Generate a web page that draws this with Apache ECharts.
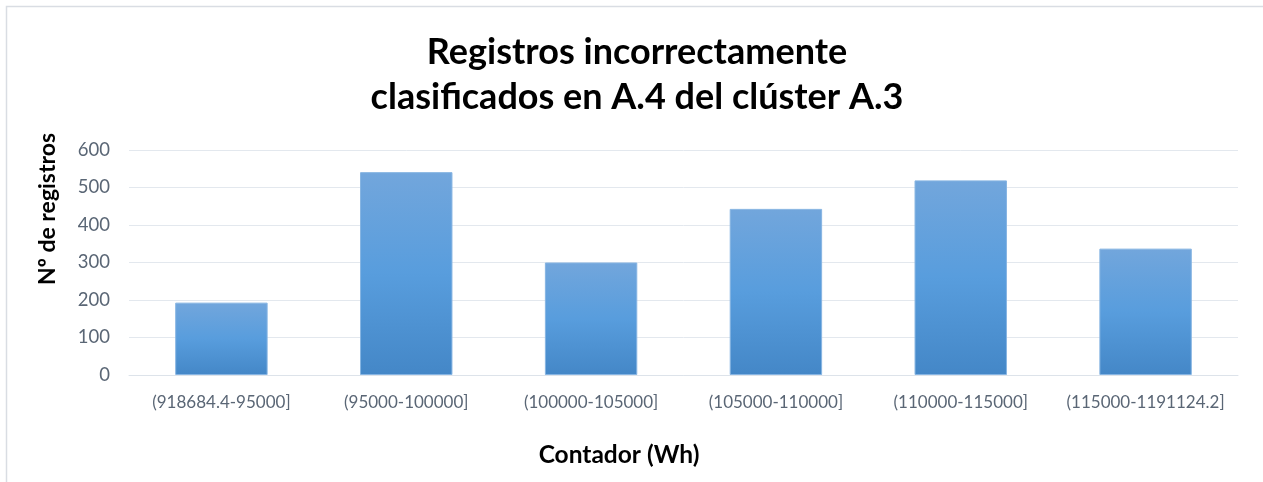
<!DOCTYPE html>
<html>
<head>
<meta charset="utf-8">
<title>Registros incorrectamente clasificados</title>
<script src="https://cdn.jsdelivr.net/npm/echarts@6/dist/echarts.min.js"></script>
<style>
  html, body { margin: 0; padding: 0; background: #ffffff; }
  #chart { width: 1263px; height: 482px; }
</style>
</head>
<body>
<div id="chart"></div>
<script>
// Intervalos del contador (Wh) y número de registros en cada uno
const categories = [
  '(918684.4-95000]',
  '(95000-100000]',
  '(100000-105000]',
  '(105000-110000]',
  '(110000-115000]',
  '(115000-1191124.2]'
];
const registros = [193, 541, 300, 443, 519, 337];
const yTicks = { min: 0, max: 600, interval: 100 };

const titleText = 'Registros incorrectamente\nclasificados en A.4 del clúster A.3';
const xAxisName = 'Contador (Wh)';
const yAxisName = 'Nº de registros';

const chart = echarts.init(document.getElementById('chart'), null, { renderer: 'canvas' });

const barGradient = new echarts.graphic.LinearGradient(0, 0, 0, 1, [
  { offset: 0, color: '#72a6dc' },
  { offset: 0.5, color: '#589ddd' },
  { offset: 1, color: '#4487c7' }
]);

const axisNameStyle = { fontFamily: 'Lato', fontWeight: 'bold', fontSize: 23, fill: '#000000' };

chart.setOption({
  animation: false,
  backgroundColor: '#ffffff',
  graphic: [
    {
      // marco del área del gráfico
      type: 'rect',
      silent: true,
      shape: { x: 6.5, y: 6.5, width: 1300, height: 520 },
      style: { fill: 'none', stroke: '#d9dde3', lineWidth: 1.5 }
    },
    {
      // título principal, dos líneas centradas
      type: 'text',
      silent: true,
      x: 637,
      y: 75,
      style: {
        text: titleText,
        align: 'center',
        verticalAlign: 'middle',
        fontFamily: 'Lato',
        fontWeight: 'bold',
        fontSize: 36,
        lineHeight: 45,
        fill: '#000000'
      }
    },
    {
      // título del eje horizontal
      type: 'text',
      silent: true,
      x: 619,
      y: 455,
      style: Object.assign({ text: xAxisName, align: 'center', verticalAlign: 'middle' }, axisNameStyle, { fontSize: 24.5 })
    },
    {
      // título del eje vertical
      type: 'text',
      silent: true,
      x: 48,
      y: 209,
      rotation: Math.PI / 2,
      style: Object.assign({ text: yAxisName, align: 'center', verticalAlign: 'middle' }, axisNameStyle)
    }
  ],
  grid: { left: 129, right: 25, top: 150, bottom: 107 },
  xAxis: {
    type: 'category',
    data: categories,
    axisLine: { lineStyle: { color: '#dde3ea', width: 1 } },
    axisTick: { show: false },
    axisLabel: { fontFamily: 'Lato', fontSize: 17, color: '#5a6675', margin: 19, interval: 0 }
  },
  yAxis: {
    type: 'value',
    min: yTicks.min,
    max: yTicks.max,
    interval: yTicks.interval,
    axisLine: { show: false },
    axisTick: { show: false },
    axisLabel: { fontFamily: 'Lato', fontSize: 18.5, color: '#5a6675', margin: 19 },
    splitLine: { lineStyle: { color: '#e3e8ee', width: 1 } }
  },
  series: [{
    type: 'bar',
    data: registros,
    barWidth: '50%',
    itemStyle: {
      color: barGradient,
      borderColor: '#86b4e2',
      borderWidth: 1
    }
  }]
});
</script>
</body>
</html>
